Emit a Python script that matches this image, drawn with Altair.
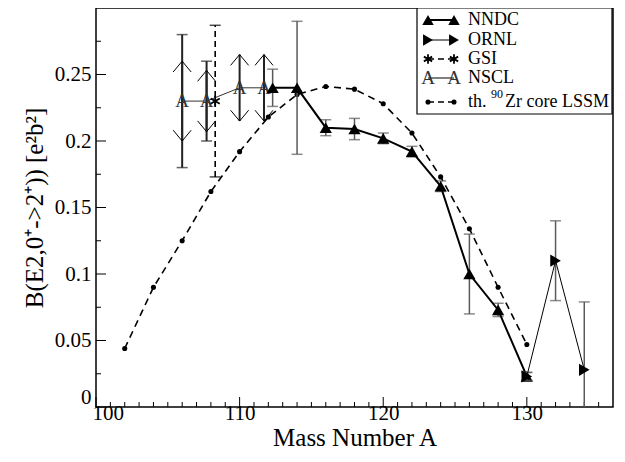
import altair as alt
import pandas as pd

# ---------------- data ----------------
mass_nndc = [112.3, 114, 116, 118, 120, 122, 124, 126, 128, 130]
b_nndc = [0.240, 0.240, 0.210, 0.209, 0.202, 0.192, 0.166, 0.100, 0.073, 0.023]
err_nndc = [0.014, 0.050, 0.006, 0.008, 0.004, 0.004, 0.004, 0.030, 0.005, 0.003]

mass_ornl = [130, 132, 134]
b_ornl = [0.023, 0.110, 0.028]
err_ornl = [0.003, 0.030, 0.051]

mass_gsi = [108.3]
b_gsi = [0.230]
err_gsi = [0.057]

mass_nscl = [106, 107.7, 110, 111.7]
b_nscl = [0.230, 0.230, 0.240, 0.240]
arrow_err_nscl = [0.030, 0.023, 0.025, 0.025]
mass_nscl_outer = [106, 107.7]
b_nscl_outer = [0.230, 0.230]
err_nscl_outer = [0.050, 0.030]

mass_th = [102, 104, 106, 108, 110, 112, 114, 116, 118, 120, 122, 124, 126, 128, 130]
b_th = [0.044, 0.090, 0.125, 0.162, 0.192, 0.218, 0.235, 0.241, 0.239, 0.228,
        0.206, 0.173, 0.134, 0.090, 0.047]

x_major = [100, 110, 120, 130]
x_minor = [v for v in range(101, 136) if v % 10 != 0]
y_major = [0, 0.05, 0.10, 0.15, 0.20, 0.25]
y_minor = [0.025, 0.075, 0.125, 0.175, 0.225, 0.275]

# ---------------- frames ----------------
def frame(xs, ys, errs=None):
    d = pd.DataFrame({"x": xs, "y": ys})
    if errs is not None:
        d["lo"] = [a - e for a, e in zip(ys, errs)]
        d["hi"] = [a + e for a, e in zip(ys, errs)]
    return d

nndc = frame(mass_nndc, b_nndc, err_nndc)
ornl = frame(mass_ornl, b_ornl, err_ornl)
gsi = frame(mass_gsi, b_gsi, err_gsi)
nscl = frame(mass_nscl, b_nscl, arrow_err_nscl)
nscl_out = frame(mass_nscl_outer, b_nscl_outer, err_nscl_outer)
th = frame(mass_th, b_th)

W, H = 517, 399
FONT = "Liberation Serif, Times New Roman, Times, serif"
xs = alt.Scale(domain=[100, 136], nice=False, zero=False)
ys = alt.Scale(domain=[0, 0.3], nice=False, zero=False)

AX = alt.Axis(
    values=x_major, ticks=False, domain=False, grid=False, format="d",
    labelFont=FONT, labelFontSize=21, labelColor="black", labelPadding=12,
    labelBaseline="alphabetic", labelFlush=True, labelFlushOffset=4,
    title="Mass Number A", titleFont=FONT, titleFontSize=25,
    titleFontWeight="normal", titleColor="black",
    titleBaseline="alphabetic", titleY=38)
AY = alt.Axis(
    values=y_major, ticks=False, domain=False, grid=False, format="~g",
    labelFont=FONT, labelFontSize=21, labelColor="black", labelPadding=5,
    labelFlush=True,
    title="B(E2,0⁺->2⁺)) [e²b²]", titleFont=FONT, titleFontSize=25,
    titleFontWeight="normal", titleColor="black", titlePadding=7)

X = lambda f="x": alt.X(f"{f}:Q", scale=xs, axis=AX)
Y = lambda f="y": alt.Y(f"{f}:Q", scale=ys, axis=AY)

UP = "M-1,1.2L0,0L1,1.2"
DOWN = "M-1,-1.2L0,0L1,-1.2"
AST = "M0,-1L0,1M-0.87,-0.5L0.87,0.5M-0.87,0.5L0.87,-0.5"

# inward ticks
xt_major = alt.Chart(pd.DataFrame({"x": x_major})).mark_rule(color="black", strokeWidth=1).encode(
    x=X(), y=alt.value(H), y2=alt.value(H - 10))
xt_minor = alt.Chart(pd.DataFrame({"x": x_minor})).mark_rule(color="black", strokeWidth=1).encode(
    x=X(), y=alt.value(H), y2=alt.value(H - 5))
yt_major = alt.Chart(pd.DataFrame({"y": y_major})).mark_rule(color="black", strokeWidth=1).encode(
    y=Y(), x=alt.value(0), x2=alt.value(10))
yt_minor = alt.Chart(pd.DataFrame({"y": y_minor})).mark_rule(color="black", strokeWidth=1).encode(
    y=Y(), x=alt.value(0), x2=alt.value(5))

# theory
th_line = alt.Chart(th).mark_line(color="black", strokeWidth=1.6, strokeDash=[7, 5], clip=True).encode(x=X(), y=Y())
th_dots = alt.Chart(th).mark_circle(color="black", size=26, opacity=1, clip=True).encode(x=X(), y=Y())

ERRC = "#5a5a5a"
def capped(df, color, width=1.5, dash=None):
    kw = {"strokeDash": dash} if dash else {}
    return [
        alt.Chart(df).mark_rule(color=color, strokeWidth=width, clip=True, **kw).encode(x=X(), y=Y("lo"), y2="hi:Q"),
        alt.Chart(df).mark_tick(color=color, orient="horizontal", size=11, thickness=1.5, clip=True).encode(x=X(), y=Y("lo")),
        alt.Chart(df).mark_tick(color=color, orient="horizontal", size=11, thickness=1.5, clip=True).encode(x=X(), y=Y("hi")),
    ]

nndc_line = alt.Chart(nndc).mark_line(color="black", strokeWidth=2, clip=True).encode(x=X(), y=Y())
nndc_pts = alt.Chart(nndc).mark_point(shape="triangle-up", filled=True, color="black", size=150, opacity=1, clip=True).encode(x=X(), y=Y())

ornl_line = alt.Chart(ornl).mark_line(color="black", strokeWidth=1, clip=True).encode(x=X(), y=Y())
ornl_pts = alt.Chart(ornl).mark_point(shape="triangle-right", filled=True, color="black", size=150, opacity=1, clip=True).encode(x=X(), y=Y())

gsi_pts = alt.Chart(gsi).mark_point(shape=AST, filled=False, color="black", strokeWidth=1.8, size=110, opacity=1, clip=True).encode(x=X(), y=Y())

nscl_err = alt.Chart(nscl).mark_rule(color="#222", strokeWidth=2, clip=True).encode(x=X(), y=Y("lo"), y2="hi:Q")
nscl_up = alt.Chart(nscl).mark_point(shape=UP, filled=False, color="black", strokeWidth=1, size=324, opacity=1, clip=True).encode(x=X(), y=Y("hi"))
nscl_down = alt.Chart(nscl).mark_point(shape=DOWN, filled=False, color="black", strokeWidth=1, size=324, opacity=1, clip=True).encode(x=X(), y=Y("lo"))
nscl_line = alt.Chart(nscl).mark_line(color="#333", strokeWidth=1, clip=True).encode(x=X(), y=Y())
nscl_pts = alt.Chart(nscl).mark_text(text="A", font=FONT, fontSize=19, color="#333", baseline="middle", align="center", clip=True).encode(x=X(), y=Y())

# ---------------- legend ----------------
one = lambda name: alt.Data(values=[{"label": name}])
LX1, LX2, TX = 332, 358, 372
legend_box = alt.Chart(one("box")).mark_rect(fill="white", stroke="black", strokeWidth=1.2).encode(
    x=alt.value(321), x2=alt.value(516), y=alt.value(0), y2=alt.value(106))

def legend_row(name, yy, line_kw, sym):
    layers = [alt.Chart(one(name)).mark_rule(color="black", **line_kw).encode(
        x=alt.value(LX1), x2=alt.value(LX2), y=alt.value(yy))]
    for xx in (LX1, LX2):
        if sym == "A":
            layers.append(alt.Chart(one(name)).mark_text(text="A", font=FONT, fontSize=19, color="#333",
                                                         baseline="middle", align="center").encode(
                x=alt.value(xx), y=alt.value(yy)))
        elif sym == AST:
            layers.append(alt.Chart(one(name)).mark_point(shape=AST, filled=False, color="black", strokeWidth=1.8,
                                                          size=90, opacity=1).encode(x=alt.value(xx), y=alt.value(yy)))
        else:
            layers.append(alt.Chart(one(name)).mark_point(shape=sym, filled=True, color="black", size=130,
                                                          opacity=1).encode(x=alt.value(xx), y=alt.value(yy)))
    layers.append(alt.Chart(one(name)).mark_text(font=FONT, fontSize=18, color="black", align="left",
                                                 baseline="middle").encode(
        x=alt.value(TX), y=alt.value(yy), text="label:N"))
    return layers

leg = []
leg += legend_row("NNDC", 12, {"strokeWidth": 2}, "triangle-up")
leg += legend_row("ORNL", 32, {"strokeWidth": 1}, "triangle-right")
leg += legend_row("GSI", 51, {"strokeWidth": 1.6, "strokeDash": [6, 4]}, AST)
leg += legend_row("NSCL", 70, {"strokeWidth": 1}, "A")
leg += [alt.Chart(one("th")).mark_rule(color="black", strokeWidth=1.6, strokeDash=[6, 4]).encode(
            x=alt.value(LX1), x2=alt.value(LX2), y=alt.value(94)),
        alt.Chart(one("th")).mark_circle(color="black", size=26, opacity=1).encode(x=alt.value(LX1), y=alt.value(94)),
        alt.Chart(one("th")).mark_circle(color="black", size=26, opacity=1).encode(x=alt.value(LX2), y=alt.value(94)),
        alt.Chart(one("th.")).mark_text(font=FONT, fontSize=18, color="black", align="left", baseline="middle").encode(
            x=alt.value(TX), y=alt.value(94), text="label:N"),
        alt.Chart(one("90")).mark_text(font=FONT, fontSize=12, color="black", align="left", baseline="middle").encode(
            x=alt.value(TX + 23), y=alt.value(86), text="label:N"),
        alt.Chart(one("Zr core LSSM")).mark_text(font=FONT, fontSize=18, color="black", align="left", baseline="middle").encode(
            x=alt.value(TX + 37), y=alt.value(94), text="label:N"),
        ]

chart = alt.layer(
    xt_major, xt_minor, yt_major, yt_minor,
    th_line, th_dots,
    *capped(nscl_out, "#222", width=2),
    nscl_err, nscl_up, nscl_down, nscl_line, nscl_pts,
    *capped(gsi, "black", width=1.6, dash=[6, 4]),
    *capped(nndc, ERRC), nndc_line, nndc_pts,
    *capped(ornl, ERRC), ornl_line, ornl_pts,
    gsi_pts,
    legend_box, *leg,
).properties(
    width=W, height=H,
    autosize=alt.AutoSizeParams(type="none"),
    padding={"left": 88, "top": 0, "right": 4, "bottom": 50},
    background="white",
).configure_view(stroke="black", strokeWidth=1.5)

chart.save("out.html", embed_options={"renderer": "svg", "actions": False})
